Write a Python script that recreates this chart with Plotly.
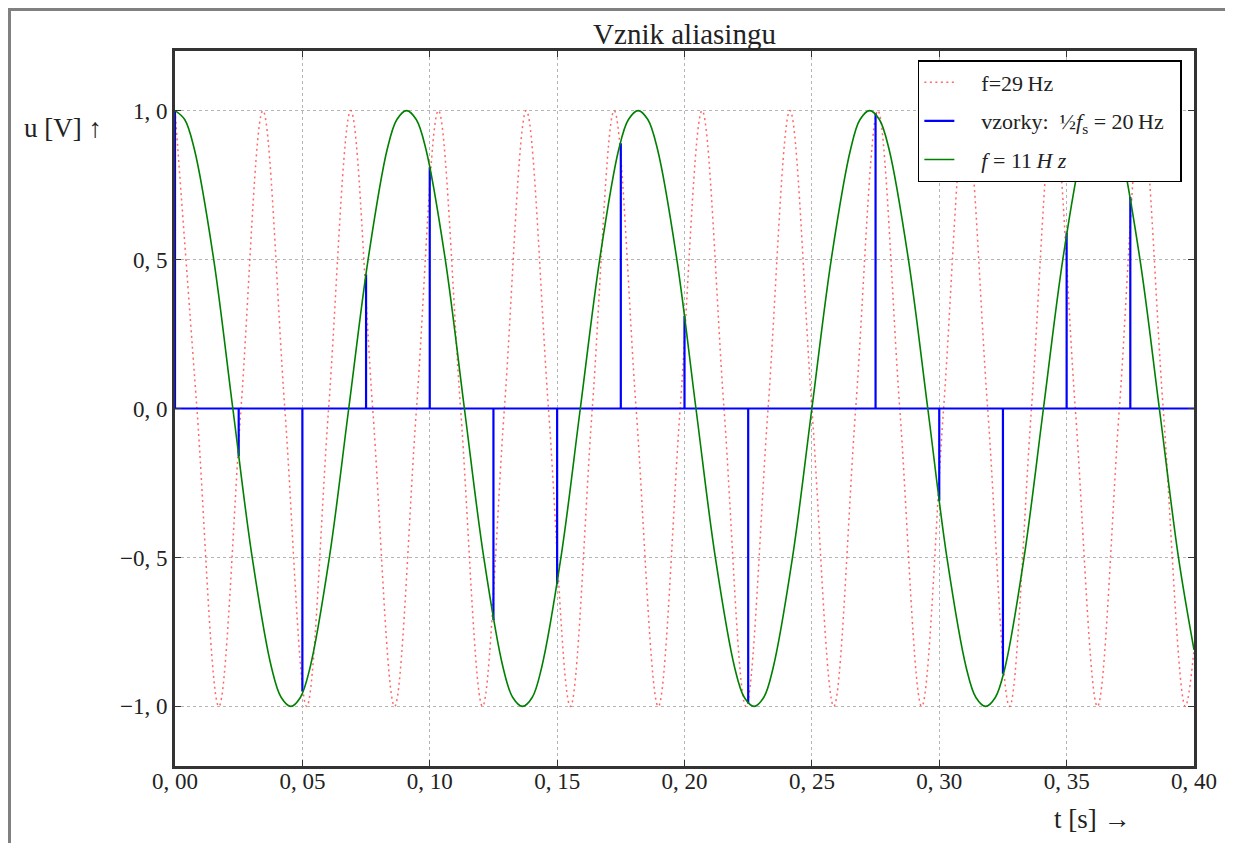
import plotly.graph_objects as go

# ---- data ----
# red dotted signal f = 29 Hz (peaks and zero crossings)
red_t = [
    0.0000, 0.0086, 0.0172, 0.0259, 0.0345, 0.0431, 0.0517, 0.0603,
    0.0690, 0.0776, 0.0862, 0.0948, 0.1034, 0.1121, 0.1207, 0.1293,
    0.1379, 0.1466, 0.1552, 0.1638, 0.1724, 0.1810, 0.1897, 0.1983,
    0.2069, 0.2155, 0.2241, 0.2328, 0.2414, 0.2500, 0.2586, 0.2672,
    0.2759, 0.2845, 0.2931, 0.3017, 0.3103, 0.3190, 0.3276, 0.3362,
    0.3448, 0.3534, 0.3621, 0.3707, 0.3793, 0.3879, 0.3966, 0.4000,
]
red_u = [
    1, 0, -1, 0, 1, 0, -1, 0,
    1, 0, -1, 0, 1, 0, -1, 0,
    1, 0, -1, 0, 1, 0, -1, 0,
    1, 0, -1, 0, 1, 0, -1, 0,
    1, 0, -1, 0, 1, 0, -1, 0,
    1, 0, -1, 0, 1, 0, -1, -0.81,
]

# green alias signal f = 11 Hz (denser points around peaks and troughs)
green_t = [
    0.0000, 0.0038, 0.0076, 0.0152, 0.0227, 0.0303, 0.0379, 0.0417,
    0.0455, 0.0492, 0.0530, 0.0606, 0.0682, 0.0758, 0.0833, 0.0871,
    0.0909, 0.0947, 0.0985, 0.1061, 0.1136, 0.1212, 0.1288, 0.1326,
    0.1364, 0.1402, 0.1439, 0.1515, 0.1591, 0.1667, 0.1742, 0.1780,
    0.1818, 0.1856, 0.1894, 0.1970, 0.2045, 0.2121, 0.2197, 0.2235,
    0.2273, 0.2311, 0.2348, 0.2424, 0.2500, 0.2576, 0.2652, 0.2689,
    0.2727, 0.2765, 0.2803, 0.2879, 0.2955, 0.3030, 0.3106, 0.3144,
    0.3182, 0.3220, 0.3258, 0.3333, 0.3409, 0.3485, 0.3561, 0.3598,
    0.3636, 0.3674, 0.3712, 0.3788, 0.3864, 0.3939, 0.4000,
]
green_u = [
    1, 0.97, 0.87, 0.5, 0, -0.5, -0.87, -0.97,
    -1, -0.97, -0.87, -0.5, 0, 0.5, 0.87, 0.97,
    1, 0.97, 0.87, 0.5, 0, -0.5, -0.87, -0.97,
    -1, -0.97, -0.87, -0.5, 0, 0.5, 0.87, 0.97,
    1, 0.97, 0.87, 0.5, 0, -0.5, -0.87, -0.97,
    -1, -0.97, -0.87, -0.5, 0, 0.5, 0.87, 0.97,
    1, 0.97, 0.87, 0.5, 0, -0.5, -0.87, -0.97,
    -1, -0.97, -0.87, -0.5, 0, 0.5, 0.87, 0.97,
    1, 0.97, 0.87, 0.5, 0, -0.5, -0.81,
]

# samples (stems)
sample_t = [0.000, 0.025, 0.050, 0.075, 0.100, 0.125, 0.150, 0.175,
            0.200, 0.225, 0.250, 0.275, 0.300, 0.325, 0.350, 0.375]
sample_u = [1.0, -0.16, -0.95, 0.45, 0.81, -0.71, -0.59, 0.89,
            0.31, -0.99, 0.0, 0.99, -0.31, -0.89, 0.59, 0.71]

x_tickvals = [0.00, 0.05, 0.10, 0.15, 0.20, 0.25, 0.30, 0.35, 0.40]
x_ticktext = ["0, 00", "0, 05", "0, 10", "0, 15", "0, 20", "0, 25", "0, 30", "0, 35", "0, 40"]
y_tickvals = [-1.0, -0.5, 0.0, 0.5, 1.0]
y_ticktext = ["\u22121, 0", "\u22120, 5", "0, 0", "0, 5", "1, 0"]

# ---- figure ----
FONT = "Liberation Serif, DejaVu Serif, serif"
TXT = "#222222"
PAD = "\u2003"

stem_x, stem_y = [], []
for t, u in zip(sample_t, sample_u):
    stem_x += [t, t, None]
    stem_y += [0, u, None]

fig = go.Figure()
fig.add_trace(go.Scatter(
    x=red_t, y=red_u, mode="lines", line_shape="spline",
    line=dict(color="rgba(255,40,40,0.7)", width=1.5, dash="2px,3.5px"),
    name=PAD + "f=29\u2009Hz", legendgroup="a",
))
fig.add_trace(go.Scatter(
    x=[0, 0.4], y=[0, 0], mode="lines",
    line=dict(color="#0000ff", width=2), showlegend=False, hoverinfo="skip",
))
fig.add_trace(go.Scatter(
    x=stem_x, y=stem_y, mode="lines",
    line=dict(color="#0000ff", width=2.2),
    name=PAD + "vzorky:  \u00bd<i>f</i><sub>s</sub> = 20\u2009Hz\u2002", legendgroup="b",
))
fig.add_trace(go.Scatter(
    x=green_t, y=green_u, mode="lines", line_shape="spline",
    line=dict(color="#008000", width=1.6),
    name=PAD + "<i>f</i> = 11\u2009<i>H z</i>", legendgroup="c",
))

axis_common = dict(
    showline=True, linecolor="#333333", linewidth=3, mirror="allticks",
    ticks="inside", ticklen=6, tickcolor="#333333", tickwidth=1,
    showgrid=True, gridcolor="#b5b5b5", gridwidth=1, griddash="3px,3px",
    zeroline=False, tickfont=dict(family=FONT, size=23, color=TXT),
)

W, H = 1225, 835
L, T, PW, PH = 167, 43, 1019, 715

fig.update_layout(
    width=W, height=H,
    margin=dict(l=L, r=W - L - PW, t=T, b=H - T - PH),
    paper_bgcolor="white", plot_bgcolor="white",
    title=dict(text="Vznik aliasingu", xref="paper", x=0.5, xanchor="center",
               yref="container", y=1 - 26 / H, yanchor="middle",
               font=dict(family=FONT, size=29, color=TXT)),
    xaxis=dict(range=[0, 0.4], tickvals=x_tickvals, ticktext=x_ticktext,
               ticklabelstandoff=-8, **axis_common),
    yaxis=dict(range=[-1.2, 1.2], tickvals=y_tickvals, ticktext=y_ticktext, **axis_common),
    legend=dict(x=0.729, y=(765 - 59) / PH, xanchor="left", yanchor="top",
                bgcolor="white", bordercolor="black", borderwidth=1.5,
                font=dict(family=FONT, size=22, color=TXT),
                tracegroupgap=7),
    showlegend=True,
    annotations=[
        dict(text="u [V] \u2191", xref="paper", yref="paper",
             x=(62 - 174) / PW, y=(765 - 127) / PH, showarrow=False,
             xanchor="center", yanchor="middle",
             font=dict(family=FONT, size=27, color=TXT)),
        dict(text="t [s] \u2192", xref="paper", yref="paper",
             x=(1091 - 174) / PW, y=(765 - 818) / PH, showarrow=False,
             xanchor="center", yanchor="middle",
             font=dict(family=FONT, size=27, color=TXT)),
    ],
    shapes=[
        dict(type="rect", xref="paper", yref="paper", layer="below",
             x0=(1.5 - L) / PW, x1=(1222.5 - L) / PW,
             y0=-0.2, y1=(PH + T - 1.5) / PH,
             line=dict(color="#808080", width=3)),
    ],
)

fig.write_html("out.html")
